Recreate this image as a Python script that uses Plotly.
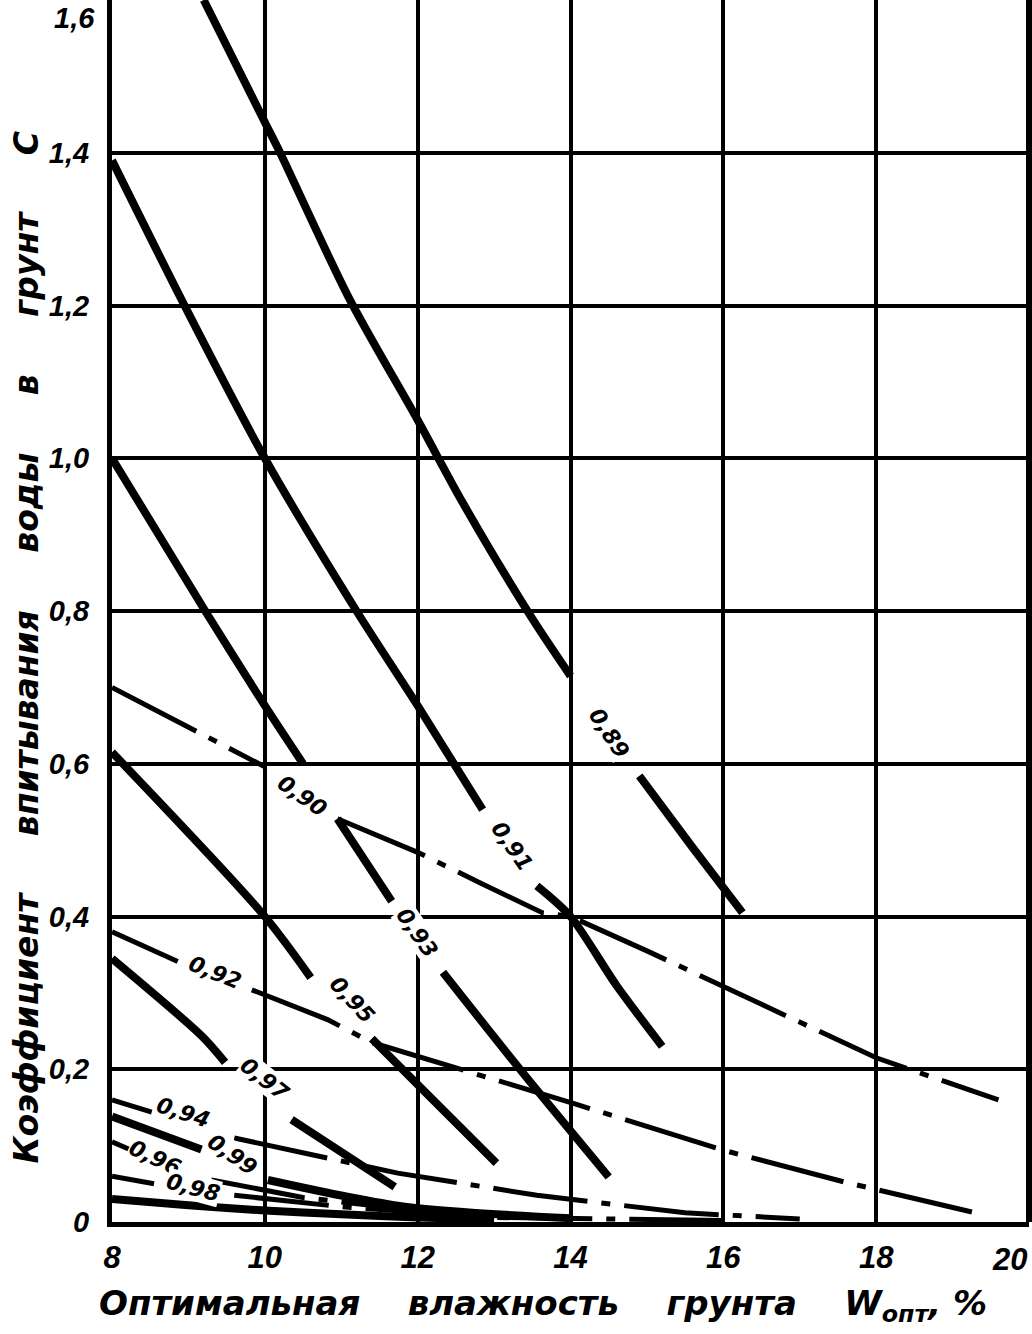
import plotly.graph_objects as go

# ---------------- data ----------------
x_ticks = [8, 10, 12, 14, 16, 18, 20]
x_ticktext = ["8", "10", "12", "14", "16", "18", "20"]
y_ticks = [0, 0.2, 0.4, 0.6, 0.8, 1.0, 1.2, 1.4, 1.6]
y_ticktext = ["0", "0,2", "0,4", "0,6", "0,8", "1,0", "1,2", "1,4", "1,6"]

# solid curves (None = gap in the drawn curve)
k089_x = [9.2, 10.0, 10.2, 11.1, 12.0, 12.6, 13.5, 14.0, None, 14.9, 15.6, 16.25]
k089_y = [1.60, 1.44, 1.40, 1.21, 1.05, 0.94, 0.79, 0.715, None, 0.584, 0.49, 0.405]

k091_x = [8.0, 9.0, 10.0, 11.2, 12.0, 12.85, None, 13.56, 14.0, 14.6, 15.2]
k091_y = [1.39, 1.19, 1.00, 0.80, 0.676, 0.54, None, 0.44, 0.40, 0.31, 0.23]

k093_x = [8.0, 9.22, 10.0, 10.5, None, 10.95, 11.66, None, 12.33, 13.37, 14.5]
k093_y = [1.00, 0.80, 0.676, 0.60, None, 0.528, 0.42, None, 0.327, 0.196, 0.059]

k095_x = [8.0, 10.0, 10.6, None, 11.4, 12.03, 13.03]
k095_y = [0.615, 0.40, 0.32, None, 0.24, 0.177, 0.077]

k097_x = [8.0, 9.18, 9.48, None, 10.35, 11.7]
k097_y = [0.345, 0.243, 0.209, None, 0.134, 0.046]

k099_x = [8.0, 9.17, None, 10.04, 11.83, 14.0]
k099_y = [0.138, 0.095, None, 0.055, 0.020, 0.005]

kbot_x = [8.0, 9.0, 10.0, 11.0, 12.0, 13.0]
kbot_y = [0.030, 0.022, 0.015, 0.010, 0.006, 0.003]

# dash-dot curves
k090_x = [8.0, 10.0, None, 10.95, 12.0, 12.8, 13.63, 14.0, 15.0, 16.5, 18.0, 19.6]
k090_y = [0.70, 0.596, None, 0.528, 0.484, 0.445, 0.405, 0.40, 0.355, 0.285, 0.215, 0.16]

k092_x = [8.0, 8.86, None, 9.83, 10.82, 11.4, 12.4, 14.08, 16.0, 17.6, 19.3]
k092_y = [0.38, 0.341, None, 0.304, 0.265, 0.235, 0.205, 0.154, 0.094, 0.052, 0.012]

k094_x = [8.0, 8.52, None, 9.6, 11.74, 13.56, 15.5, 17.0]
k094_y = [0.16, 0.144, None, 0.11, 0.064, 0.035, 0.012, 0.004]

k096_x = [8.0, 8.3, None, 9.3, 10.5, 12.0, 14.0]
k096_y = [0.105, 0.092, None, 0.055, 0.032, 0.015, 0.004]

k098_x = [8.0, 8.55, None, 9.6, 11.0, 13.0, 16.0]
k098_y = [0.060, 0.050, None, 0.035, 0.020, 0.006, 0.002]

# curve labels: text, x, y, angle
label_text = ["0,89", "0,91", "0,93", "0,90", "0,92", "0,95", "0,97", "0,94", "0,96", "0,99", "0,98"]
label_x = [14.51, 13.24, 11.99, 10.48, 9.35, 11.14, 10.0, 8.93, 8.56, 9.57, 9.06]
label_y = [0.640, 0.492, 0.379, 0.558, 0.327, 0.291, 0.186, 0.143, 0.085, 0.088, 0.045]
label_angle = [57, 55, 55, 35, 22, 47, 38, 18, 25, 35, 15]

# ---------------- figure ----------------
FONT = "DejaVu Sans, sans-serif"
TICKFONT = "Liberation Sans, Arial, sans-serif"
SP = "\u00a0\u00a0\u00a0\u00a0\u00a0"
SPX = "\u00a0\u00a0\u00a0\u00a0"

fig = go.Figure()

solid = [(k089_x, k089_y), (k091_x, k091_y), (k093_x, k093_y), (k095_x, k095_y),
         (k097_x, k097_y), (k099_x, k099_y), (kbot_x, kbot_y)]
dashdot = [(k090_x, k090_y), (k092_x, k092_y), (k094_x, k094_y),
           (k096_x, k096_y), (k098_x, k098_y)]

for xs, ys in dashdot:
    fig.add_trace(go.Scatter(x=xs, y=ys, mode="lines", connectgaps=False,
                             line=dict(color="black", width=5, dash="95px,14px,9px,14px"),
                             showlegend=False, hoverinfo="skip"))
for xs, ys in solid:
    fig.add_trace(go.Scatter(x=xs, y=ys, mode="lines", connectgaps=False,
                             line=dict(color="black", width=8, shape="spline", smoothing=0.8),
                             showlegend=False, hoverinfo="skip"))

for t, lx, ly, a in zip(label_text, label_x, label_y, label_angle):
    fig.add_annotation(x=lx, y=ly, text="<b><i>" + t + "</i></b>", showarrow=False,
                       textangle=a, bgcolor="white", borderpad=0,
                       font=dict(family=FONT, size=22, color="black"))

# edge tick labels drawn as annotations so they stay inside the page
fig.add_annotation(x=-0.016, y=y_ticks[-1], xref="paper", yref="y", xanchor="right", yanchor="top",
                   text="<b><i>" + y_ticktext[-1] + "</i></b>", showarrow=False,
                   font=dict(family=TICKFONT, size=29, color="black"))
fig.add_annotation(x=x_ticks[-1], y=-0.0145, xref="x", yref="paper", xanchor="right", yanchor="top",
                   text="<b><i>" + x_ticktext[-1] + "</i></b>", showarrow=False,
                   font=dict(family=TICKFONT, size=31, color="black", weight="bold", style="italic"))

# y axis title
fig.add_annotation(x=-0.093, y=0.47, xref="paper", yref="paper", textangle=-90,
                   xanchor="center", yanchor="middle",
                   text="<b><i>Коэффициент" + SP + "впитывания" + SP + "воды" + SP + "в" + SP + "грунт" + SP + "С</i></b>",
                   showarrow=False, font=dict(family=FONT, size=33, color="black"))

# x axis title
fig.add_annotation(x=0.47, y=-0.068, xref="paper", yref="paper",
                   xanchor="center", yanchor="middle",
                   text="<b><i>Оптимальная" + SPX + "влажность" + SPX + "грунта" + SPX + "W<sub>опт</sub>, %</i></b>",
                   showarrow=False, font=dict(family=FONT, size=34, color="black"))

fig.update_xaxes(range=[8, 20], tickvals=x_ticks[:-1], ticktext=x_ticktext[:-1],
                 showgrid=True, gridcolor="black", gridwidth=3.5,
                 showline=True, linecolor="black", linewidth=5, mirror=False,
                 zeroline=False, ticks="", ticklabelstandoff=4, automargin=False,
                 tickfont=dict(family=TICKFONT, size=31, color="black", weight="bold", style="italic"))
fig.update_yaxes(range=[0, 1.6], tickvals=y_ticks[:-1], ticktext=y_ticktext[:-1],
                 showgrid=True, gridcolor="black", gridwidth=3.5,
                 showline=True, linecolor="black", linewidth=5, mirror=False,
                 zeroline=False, ticks="", ticklabelstandoff=12, automargin=False,
                 tickfont=dict(family=TICKFONT, size=29, color="black", weight="bold", style="italic"))

# right border of the frame (paper-referenced so it is not clipped)
fig.add_shape(type="line", xref="paper", yref="paper", x0=1, x1=1, y0=0, y1=1,
              line=dict(color="black", width=6))

fig.update_layout(width=1032, height=1334, autosize=False,
                  plot_bgcolor="white", paper_bgcolor="white",
                  margin=dict(l=112, r=3, t=0, b=112, autoexpand=False))

fig.write_html(
    "out.html",
    config={"displayModeBar": False, "responsive": False},
    post_script=(
        "document.documentElement.style.overflow='hidden';"
        "document.body.style.margin='0';document.body.style.overflow='hidden';"
    ),
)
